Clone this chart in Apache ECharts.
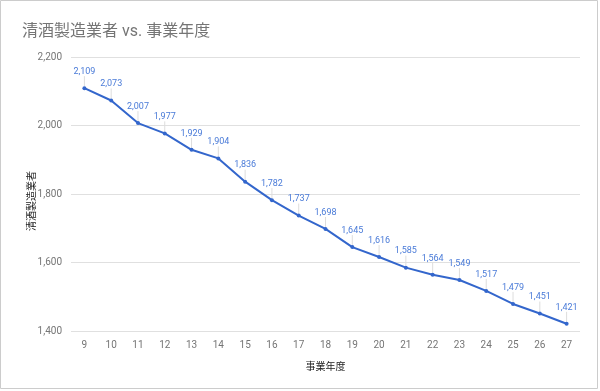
<!DOCTYPE html>
<html><head><meta charset="utf-8">
<script src="https://cdn.jsdelivr.net/npm/echarts@6/dist/echarts.min.js"></script>
<style>html,body{margin:0;padding:0;background:#fff}#c{width:600px;height:391px}</style>
</head><body><div id="c"></div>
<script>
const categories = ['9','10','11','12','13','14','15','16','17','18','19','20','21','22','23','24','25','26','27'];
const values = [2109,2073,2007,1977,1929,1904,1836,1782,1737,1698,1645,1616,1585,1564,1549,1517,1479,1451,1421];
const yTicks = { min: 1400, max: 2200, interval: 200 };
const titleText = '清酒製造業者 vs. 事業年度';
const xName = '事業年度';
const yName = '清酒製造業者';

const chart = echarts.init(document.getElementById('c'), null, {renderer:'canvas'});
chart.setOption({
  animation: false,
  graphic: [
    {type:'rect', shape:{x:0.5,y:0.5,width:597,height:388}, style:{fill:'none', stroke:'#cccccc', lineWidth:1}, silent:true},
    {type:'text', x:31, y:201, rotation:Math.PI/2, silent:true,
     style:{text:yName, fontSize:10, fill:'#222', align:'center', verticalAlign:'middle', fontFamily:'"Noto Sans CJK JP", sans-serif'}}
  ],
  title: { text: titleText, left: 17, top: 19, textStyle: { fontSize: 16, fontWeight: 'normal', color: '#757575', fontFamily: 'Roboto, "Noto Sans CJK JP", sans-serif' } },
  grid: { left: 71, right: 20, top: 57, bottom: 60 },
  xAxis: {
    type: 'category', data: categories, boundaryGap: true,
    axisLine: { show: false }, axisTick: { show: false },
    axisLabel: { color: '#757575', fontSize: 10, margin: 9, fontFamily: 'Roboto, sans-serif' },
    name: xName, nameLocation: 'middle', nameGap: 30,
    nameTextStyle: { color: '#222', fontSize: 10, fontFamily: '"Noto Sans CJK JP", sans-serif' }
  },
  yAxis: {
    type: 'value', min: yTicks.min, max: yTicks.max, interval: yTicks.interval,
    axisLine: { show: false }, axisTick: { show: false },
    splitLine: { lineStyle: { color: '#e0e0e0' } },
    axisLabel: { color: '#757575', fontSize: 10, margin: 9, fontFamily: 'Roboto, sans-serif',
      formatter: v => v.toLocaleString('en-US') }
  },
  series: [{
    type: 'line', data: values,
    symbol: 'circle', symbolSize: 4,
    lineStyle: { color: '#3366cc', width: 2 },
    itemStyle: { color: '#3366cc' },
    label: { show: true, position: 'top', distance: 4, color: '#4a7bd8', fontSize: 9, fontFamily: 'Roboto, sans-serif',
      formatter: p => p.value.toLocaleString('en-US') },
    labelLayout: { dy: -6 },
    labelLine: { show: true, lineStyle: { color: '#dddddd', width: 1 } }
  }]
});
</script></body></html>
